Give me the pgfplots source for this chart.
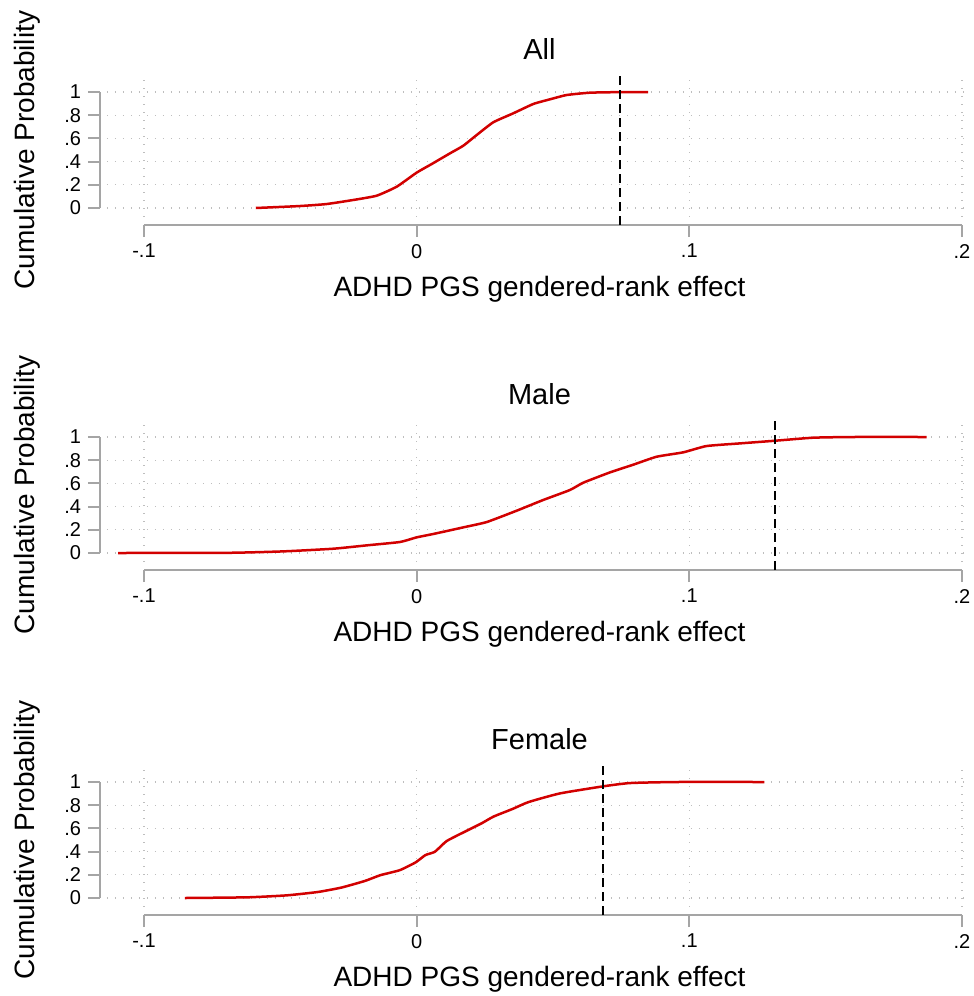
\documentclass[border=0pt]{standalone}
\usepackage{fontspec}
\setmainfont{Liberation Sans}
\usepackage{pgfplots}
\pgfplotsset{compat=1.18}
\definecolor{stred}{RGB}{210,0,0}
\definecolor{gridc}{RGB}{190,190,190}
\definecolor{axc}{RGB}{165,165,165}
\tikzset{gridline/.style={draw=gridc, line width=0.6pt, dash pattern=on 0.6pt off 3.4pt}}
\pgfplotsset{
  stpanel/.style={
    scale only axis, width=409pt, height=58pt,
    xmin=-0.1, xmax=0.2, ymin=0, ymax=1,
    clip=false,
    axis x line=bottom, axis y line=left,
    axis x line shift=8.5pt, axis y line shift=22pt,
    axis line style={-, draw=axc, line width=1pt},
    tick align=outside,
    major tick length=6pt,
    tick style={draw=axc, line width=1pt},
    xtick={-0.1,0,0.1,0.2}, xticklabels={-.1,0,.1,.2},
    ytick={0,0.2,0.4,0.6,0.8,1}, yticklabels={0,.2,.4,.6,.8,1},
    ticklabel style={font=\fontsize{10}{12}\selectfont},
    xlabel={ADHD PGS gendered-rank effect},
    ylabel={Cumulative Probability},
    label style={font=\fontsize{14}{16}\selectfont},
    xlabel style={at={(axis description cs:0.4835,-0.767)}, anchor=base},
    ylabel style={at={(axis description cs:-0.1333,0.5)}, anchor=base},
    title style={at={(axis description cs:0.4835,1.284)}, anchor=base, yshift=-6pt, font=\fontsize{14.5}{16}\selectfont},
  },
  curve/.style={draw=stred, line width=1.25pt, mark=none, smooth, tension=0.3},
  vref/.style={draw=black, line width=1pt, dash pattern=on 4.5pt off 2.5pt, mark=none},
}
\newcommand{\stgrid}{%
  \pgfplotsinvokeforeach{0,0.2,0.4,0.6,0.8,1}{\draw[gridline] (axis cs:-0.1136,##1) -- (axis cs:0.203,##1);}%
  \pgfplotsinvokeforeach{-0.1,0,0.1,0.2}{\draw[gridline] (axis cs:##1,-0.075) -- (axis cs:##1,1.129);}%
}
\begin{document}
\begin{tikzpicture}
\useasboundingbox (0,0) rectangle (487pt,-498pt);
% Panel 1: All
\begin{axis}[stpanel, at={(72pt,-104pt)}, anchor=south west, title={All}]
\stgrid
\addplot[curve] coordinates {(-0.0590,0) (-0.0428,0.017) (-0.0331,0.034) (-0.0233,0.069) (-0.0147,0.106) (-0.0073,0.184) (0,0.305) (0.0055,0.379) (0.0122,0.471) (0.0171,0.537) (0.0220,0.629) (0.0281,0.739) (0.0354,0.816) (0.0428,0.897) (0.0489,0.937) (0.0550,0.974) (0.0635,0.994) (0.0745,0.999) (0.0849,1.0)};
\addplot[vref] coordinates {(0.0746,-0.147) (0.0746,1.164)};
\end{axis}
% Panel 2: Male
\begin{axis}[stpanel, at={(72pt,-276.5pt)}, anchor=south west, title={Male}]
\stgrid
\addplot[curve] coordinates {(-0.1095,0) (-0.0685,0.002) (-0.0489,0.014) (-0.0306,0.037) (-0.0183,0.066) (-0.0061,0.095) (0,0.135) (0.0061,0.164) (0.0171,0.221) (0.0257,0.267) (0.0367,0.365) (0.0464,0.457) (0.0562,0.543) (0.0611,0.606) (0.0709,0.695) (0.0794,0.761) (0.0880,0.830) (0.0978,0.868) (0.1063,0.922) (0.1186,0.945) (0.1315,0.968) (0.1454,0.994) (0.1601,1.0) (0.1870,1.0)};
\addplot[vref] coordinates {(0.1315,-0.147) (0.1315,1.164)};
\end{axis}
% Panel 3: Female
\begin{axis}[stpanel, at={(72pt,-449pt)}, anchor=south west, title={Female}]
\stgrid
\addplot[curve] coordinates {(-0.0850,0) (-0.0619,0.006) (-0.0476,0.023) (-0.0362,0.052) (-0.0276,0.090) (-0.0190,0.147) (-0.0133,0.197) (-0.0062,0.240) (-0.0004,0.307) (0.0032,0.370) (0.0067,0.399) (0.0110,0.491) (0.0182,0.578) (0.0239,0.645) (0.0282,0.702) (0.0353,0.769) (0.0410,0.827) (0.0524,0.901) (0.0682,0.962) (0.0782,0.991) (0.0953,1.0) (0.1275,1.0)};
\addplot[vref] coordinates {(0.0684,-0.147) (0.0684,1.164)};
\end{axis}
\end{tikzpicture}
\end{document}
